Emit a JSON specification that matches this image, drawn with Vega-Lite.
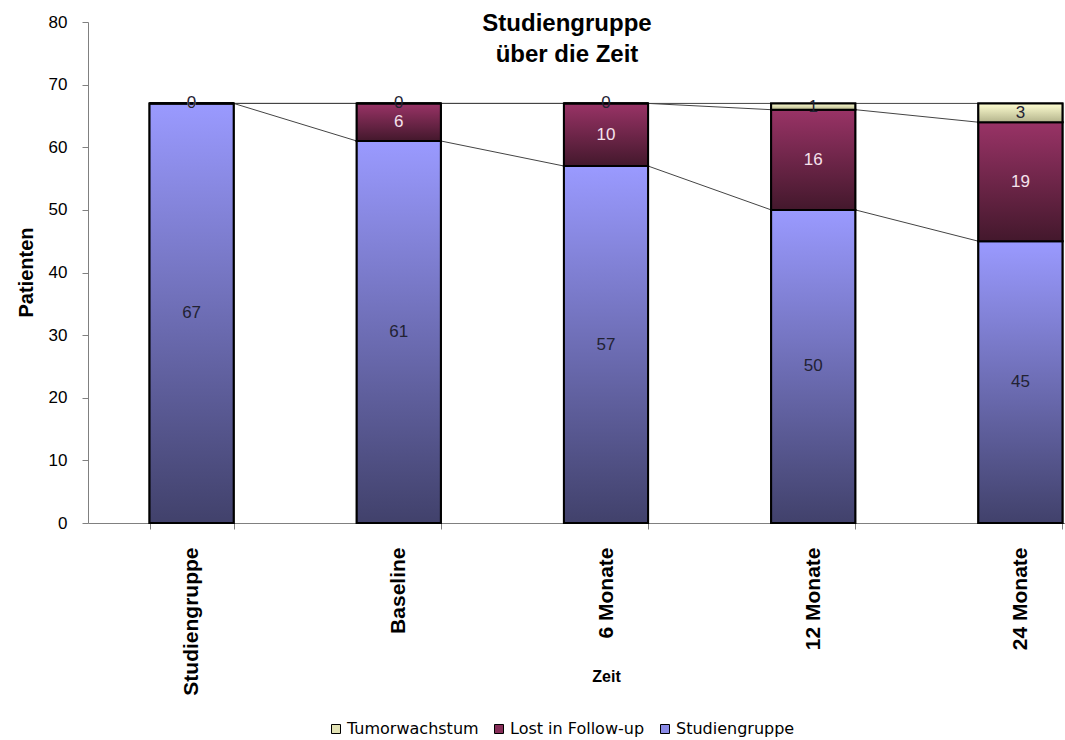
{
  "$schema": "https://vega.github.io/schema/vega-lite/v6.json",
  "width": 1036,
  "height": 501,
  "autosize": {"type": "none"},
  "padding": {"left": 88, "top": 22, "right": -59, "bottom": 217},
  "background": "white",
  "config": {
    "view": {"stroke": null},
    "font": "Liberation Sans",
    "axis": {"grid": false}
  },
  "title": {
    "text": ["Studiengruppe", "über die Zeit"],
    "font": "Liberation Sans",
    "fontSize": 24,
    "fontWeight": "bold",
    "lineHeight": 31,
    "color": "black",
    "anchor": "middle",
    "frame": "group",
    "dx": -39,
    "offset": -54
  },
  "data": {
    "values": [
      {"zeit": "Studiengruppe", "serie": "Studiengruppe", "wert": 67},
      {"zeit": "Studiengruppe", "serie": "Lost in Follow-up", "wert": 0},
      {"zeit": "Studiengruppe", "serie": "Tumorwachstum", "wert": 0},
      {"zeit": "Baseline", "serie": "Studiengruppe", "wert": 61},
      {"zeit": "Baseline", "serie": "Lost in Follow-up", "wert": 6},
      {"zeit": "Baseline", "serie": "Tumorwachstum", "wert": 0},
      {"zeit": "6 Monate", "serie": "Studiengruppe", "wert": 57},
      {"zeit": "6 Monate", "serie": "Lost in Follow-up", "wert": 10},
      {"zeit": "6 Monate", "serie": "Tumorwachstum", "wert": 0},
      {"zeit": "12 Monate", "serie": "Studiengruppe", "wert": 50},
      {"zeit": "12 Monate", "serie": "Lost in Follow-up", "wert": 16},
      {"zeit": "12 Monate", "serie": "Tumorwachstum", "wert": 1},
      {"zeit": "24 Monate", "serie": "Studiengruppe", "wert": 45},
      {"zeit": "24 Monate", "serie": "Lost in Follow-up", "wert": 19},
      {"zeit": "24 Monate", "serie": "Tumorwachstum", "wert": 3}
    ]
  },
  "transform": [
    {"calculate": "indexof(['Studiengruppe','Lost in Follow-up','Tumorwachstum'], datum.serie)", "as": "ebene"},
    {"calculate": "indexof(['Studiengruppe','Baseline','6 Monate','12 Monate','24 Monate'], datum.zeit)", "as": "zpos"},
    {"stack": "wert", "groupby": ["zeit"], "sort": [{"field": "ebene", "order": "ascending"}], "as": ["unten", "oben"]}
  ],
  "layer": [
    {
      "transform": [
        {
          "window": [
            {"op": "lead", "field": "oben", "as": "oben_next"},
            {"op": "lead", "field": "zeit", "as": "zeit_next"}
          ],
          "groupby": ["serie"],
          "sort": [{"field": "zpos", "order": "ascending"}],
          "frame": [null, null]
        },
        {"filter": "datum.zeit_next != null"}
      ],
      "mark": {"type": "rule", "color": "#444444", "strokeWidth": 1},
      "encoding": {
        "x": {"field": "zeit", "type": "nominal", "bandPosition": 1, "title": "Zeit"},
        "x2": {"field": "zeit_next", "bandPosition": 0},
        "y": {"field": "oben", "type": "quantitative", "title": "Patienten"},
        "y2": {"field": "oben_next"}
      }
    },
    {
      "mark": {"type": "bar", "stroke": "black", "strokeWidth": 2},
      "encoding": {
        "x": {
          "field": "zeit",
          "type": "nominal",
          "title": "Zeit",
          "scale": {
            "domain": ["Studiengruppe", "Baseline", "6 Monate", "12 Monate", "24 Monate"],
            "paddingInner": 0.594,
            "paddingOuter": 0.297
          },
          "axis": {
            "labelAngle": -90,
            "labelFont": "Liberation Sans",
            "labelFontSize": 21,
            "labelFontWeight": "bold",
            "labelColor": "black",
            "labelPadding": 18,
            "labelLimit": 300,
            "tickBand": "extent",
            "tickSize": 6,
            "tickColor": "#808080",
            "domainColor": "#808080",
            "titleFont": "Liberation Sans",
            "titleFontSize": 16,
            "titleFontWeight": "bold",
            "titleColor": "black",
            "titleY": 158,
            "titleBaseline": "alphabetic"
          }
        },
        "y": {
          "field": "unten",
          "type": "quantitative",
          "title": "Patienten",
          "scale": {"domain": [0, 80], "nice": false},
          "axis": {
            "values": [0, 10, 20, 30, 40, 50, 60, 70, 80],
            "labelFont": "Liberation Sans",
            "labelFontSize": 17,
            "labelColor": "black",
            "labelPadding": 15,
            "tickSize": 6,
            "tickColor": "#808080",
            "domainColor": "#808080",
            "titleFont": "Liberation Sans",
            "titleFontSize": 20,
            "titleFontWeight": "bold",
            "titleColor": "black",
            "titleAngle": -90,
            "titleAlign": "center",
            "titleBaseline": "alphabetic",
            "titleX": -56,
            "titleY": 250
          }
        },
        "y2": {"field": "oben"},
        "color": {
          "field": "serie",
          "type": "nominal",
          "scale": {
            "domain": ["Tumorwachstum", "Lost in Follow-up", "Studiengruppe"],
            "range": ["#E2E2B4", "#862E58", "#8A8AE6"]
          },
          "legend": {
            "title": null,
            "orient": "none",
            "direction": "horizontal",
            "legendX": 240,
            "legendY": 699,
            "symbolType": "square",
            "symbolSize": 81,
            "symbolStrokeColor": "black",
            "symbolStrokeWidth": 1,
            "labelFont": "DejaVu Sans",
            "labelFontSize": 16,
            "labelColor": "black",
            "labelOffset": 3,
            "columnPadding": 12,
            "encode": {
              "symbols": {"update": {"stroke": {"value": "black"}, "strokeWidth": {"value": 1}}}
            }
          }
        }
      }
    },
    {
      "transform": [{"filter": "datum.serie === 'Studiengruppe'"}],
      "mark": {
        "type": "bar", "stroke": "black", "strokeWidth": 2,
        "fill": {"gradient": "linear", "x1": 0, "y1": 0, "x2": 0, "y2": 1,
                 "stops": [{"offset": 0, "color": "#9A9AFF"}, {"offset": 1, "color": "#41416B"}]}
      },
      "encoding": {
        "x": {"field": "zeit", "type": "nominal", "title": "Zeit"},
        "y": {"field": "unten", "type": "quantitative", "title": "Patienten"},
        "y2": {"field": "oben"}
      }
    },
    {
      "transform": [{"filter": "datum.serie === 'Lost in Follow-up'"}],
      "mark": {
        "type": "bar", "stroke": "black", "strokeWidth": 2,
        "fill": {"gradient": "linear", "x1": 0, "y1": 0, "x2": 0, "y2": 1,
                 "stops": [{"offset": 0, "color": "#993366"}, {"offset": 1, "color": "#43182C"}]}
      },
      "encoding": {
        "x": {"field": "zeit", "type": "nominal", "title": "Zeit"},
        "y": {"field": "unten", "type": "quantitative", "title": "Patienten"},
        "y2": {"field": "oben"}
      }
    },
    {
      "transform": [{"filter": "datum.serie === 'Tumorwachstum'"}],
      "mark": {
        "type": "bar", "stroke": "black", "strokeWidth": 2,
        "fill": {"gradient": "linear", "x1": 0, "y1": 0, "x2": 0, "y2": 1,
                 "stops": [{"offset": 0, "color": "#FFFFD2"}, {"offset": 1, "color": "#B4B48C"}]}
      },
      "encoding": {
        "x": {"field": "zeit", "type": "nominal", "title": "Zeit"},
        "y": {"field": "unten", "type": "quantitative", "title": "Patienten"},
        "y2": {"field": "oben"}
      }
    },
    {
      "transform": [
        {"calculate": "(datum.unten + datum.oben) / 2", "as": "mitte"}
      ],
      "mark": {"type": "text", "font": "Liberation Sans", "fontSize": 17, "baseline": "middle", "align": "center"},
      "encoding": {
        "x": {"field": "zeit", "type": "nominal", "title": "Zeit"},
        "y": {"field": "mitte", "type": "quantitative", "title": "Patienten"},
        "text": {"field": "wert", "type": "quantitative"},
        "fill": {
          "condition": {"test": "datum.serie === 'Lost in Follow-up'", "value": "#F6E2EC"},
          "value": "#222233"
        }
      }
    }
  ]
}
